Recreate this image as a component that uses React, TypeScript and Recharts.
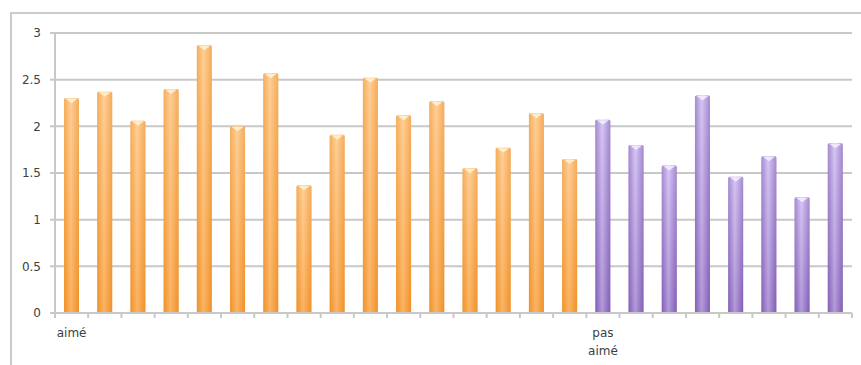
import React from "react";
import { Bar, BarChart, CartesianGrid, XAxis, YAxis } from "recharts";

// scores: first group "aimé", second group "pas aimé"
const likedScores = [2.3, 2.37, 2.06, 2.4, 2.87, 2.0, 2.57, 1.37, 1.91, 2.52, 2.12, 2.27, 1.55, 1.77, 2.14, 1.65];
const dislikedScores = [2.07, 1.8, 1.58, 2.33, 1.46, 1.68, 1.24, 1.82];
const groupLabels = ["aimé", "pas aimé"];
const yTicks = [0, 0.5, 1, 1.5, 2, 2.5, 3];

const W = 861;
const H = 365;
const margin = { top: 33, right: 9, left: 0, bottom: 0 };
const yAxisWidth = 55;
const xAxisHeight = 52;
const FONT = "'DejaVu Sans', sans-serif";
const GRID = "#C8C8C8";
const TEXT = "#404040";

const data = [
  ...likedScores.map((v, i) => ({ idx: i, score: v, group: 0, label: i === 0 ? groupLabels[0] : "" })),
  ...dislikedScores.map((v, i) => ({
    idx: likedScores.length + i,
    score: v,
    group: 1,
    label: i === 0 ? groupLabels[1] : "",
  })),
];

const bandWidth = (W - margin.left - margin.right - yAxisWidth) / data.length;

const GlossyBar = (props: any) => {
  const { x, y, width, height, payload } = props;
  if (!height || height <= 0) return null;
  const g = payload.group === 0 ? "orange" : "purple";
  const tip = payload.group === 0 ? "#FFF1CF" : "#F3ECFF";
  return (
    <g>
      <rect x={x} y={y} width={width} height={height} rx={1.5} fill={`url(#h-${g})`} />
      <rect x={x} y={y} width={width} height={height} rx={1.5} fill={`url(#v-${g})`} />
      <polygon
        points={`${x + 1.5},${y + 0.5} ${x + width - 1.5},${y + 0.5} ${x + width / 2},${y + 5}`}
        fill={tip}
        opacity={0.9}
      />
    </g>
  );
};

const CategoryTick = (props: any) => {
  const { x, y, payload } = props;
  const item = data[payload.index] || data[payload.value];
  const words = item && item.label ? (item.label.length > 5 ? item.label.split(" ") : [item.label]) : [];
  const left = x - bandWidth / 2;
  const last = payload.index === data.length - 1;
  return (
    <g>
      <line x1={left} y1={y} x2={left} y2={y + 5} stroke={GRID} strokeWidth={2} />
      {last && (
        <line x1={left + bandWidth} y1={y} x2={left + bandWidth} y2={y + 5} stroke={GRID} strokeWidth={2} />
      )}
      {words.map((w: string, i: number) => (
        <text
          key={i}
          x={x}
          y={y + 24 + i * 18}
          textAnchor="middle"
          fontFamily={FONT}
          fontSize={12}
          fill={TEXT}
        >
          {w}
        </text>
      ))}
    </g>
  );
};

export default function App() {
  return (
    <div
      style={{
        position: "absolute",
        left: 0,
        top: 0,
        width: W,
        height: H,
        overflow: "hidden",
        background: "#FFFFFF",
      }}
    >
      <div
        style={{
          position: "absolute",
          left: 10,
          top: 12,
          width: 950,
          height: 450,
          border: "2px solid #CBCBCB",
        }}
      />
      <div style={{ position: "absolute", left: 0, top: 0 }}>
        <BarChart width={W} height={H} data={data} margin={margin} barCategoryGap={0}>
          <defs>
            <linearGradient id="h-orange" x1="0" y1="0" x2="1" y2="0">
              <stop offset="0%" stopColor="#EE922C" />
              <stop offset="45%" stopColor="#FFC585" />
              <stop offset="100%" stopColor="#EE902C" />
            </linearGradient>
            <linearGradient id="v-orange" x1="0" y1="0" x2="0" y2="1">
              <stop offset="0%" stopColor="#FFE2B8" stopOpacity={0.35} />
              <stop offset="100%" stopColor="#F39020" stopOpacity={0.35} />
            </linearGradient>
            <linearGradient id="h-purple" x1="0" y1="0" x2="1" y2="0">
              <stop offset="0%" stopColor="#8561B8" />
              <stop offset="45%" stopColor="#CDBBEE" />
              <stop offset="100%" stopColor="#835FB6" />
            </linearGradient>
            <linearGradient id="v-purple" x1="0" y1="0" x2="0" y2="1">
              <stop offset="0%" stopColor="#E6DCFF" stopOpacity={0.35} />
              <stop offset="100%" stopColor="#7E58B2" stopOpacity={0.35} />
            </linearGradient>
          </defs>
          <CartesianGrid vertical={false} stroke={GRID} strokeWidth={2} />
          <XAxis
            dataKey="idx"
            type="category"
            height={xAxisHeight}
            axisLine={{ stroke: GRID, strokeWidth: 2 }}
            tickLine={false}
            tickSize={0}
            tickMargin={0}
            interval={0}
            tick={<CategoryTick />}
          />
          <YAxis
            width={yAxisWidth}
            domain={[0, 3]}
            ticks={yTicks}
            interval={0}
            axisLine={{ stroke: GRID, strokeWidth: 2 }}
            tickLine={{ stroke: GRID, strokeWidth: 2 }}
            tickSize={5}
            tickMargin={9}
            tick={{ fontFamily: FONT, fontSize: 12, fill: TEXT }}
          />
          <Bar dataKey="score" barSize={15} shape={<GlossyBar />} isAnimationActive={false} />
        </BarChart>
      </div>
    </div>
  );
}
